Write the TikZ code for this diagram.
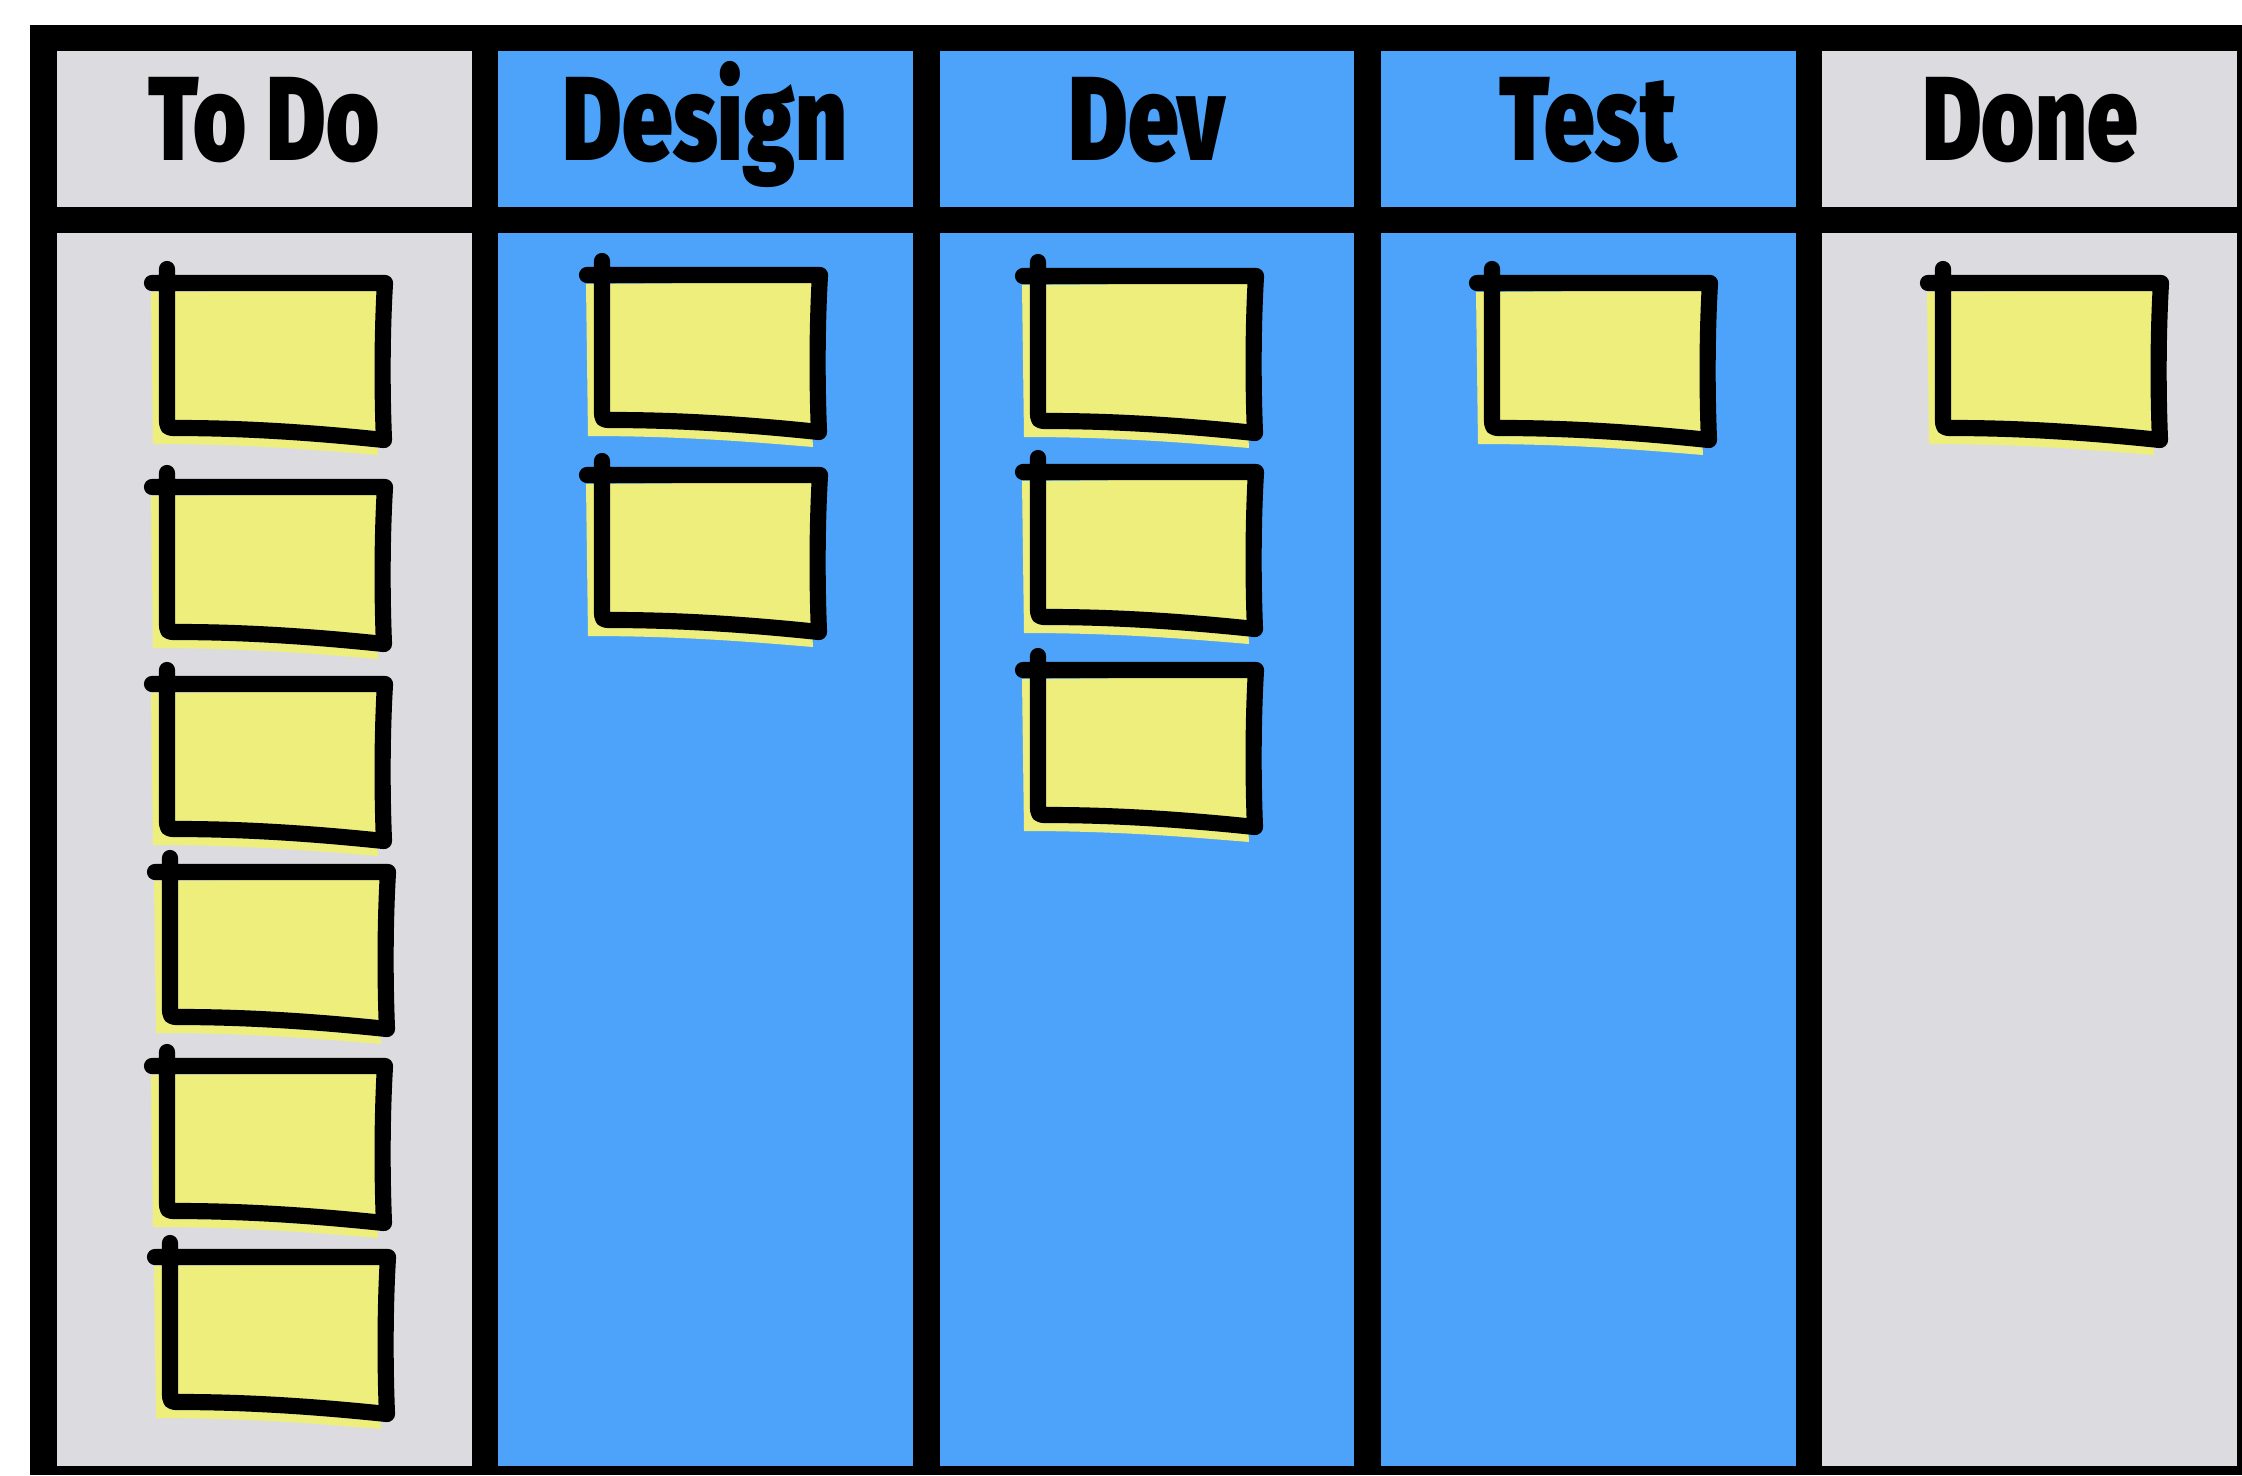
\documentclass[tikz,border=0pt]{standalone}
\usepackage{fontspec}
\newfontfamily\headfont[FakeStretch=0.76]{Fira Sans Black}
\definecolor{colgray}{RGB}{220,220,224}
\definecolor{colblue}{RGB}{77,163,250}
\definecolor{notey}{RGB}{238,238,124}
\tikzset{
  headtext/.style={anchor=base, inner sep=0pt, font=\headfont\fontsize{34}{34}\selectfont, text=black},
  noteline/.style={draw=black, line width=4.6pt, line cap=round, line join=round},
  notefill/.style={fill=notey}
}
\newcommand{\stickynote}[2]{%
  \begin{scope}[shift={(#1,#2)}]
    \fill[notefill] (-16,9) -- (210,7) .. controls (208,60) and (208,120) .. (211,172)
      .. controls (150,167) and (80,161) .. (-14,161) -- cycle;
    \draw[noteline] (0,-14) -- (0,134) .. controls (0,145) .. (10,145)
      .. controls (80,145) and (150,150) .. (217,157)
      .. controls (215,110) and (215,50) .. (218,0) -- (-15,0);
  \end{scope}}
\begin{document}
\begin{tikzpicture}[x=0.01cm, y=-0.01cm]
  \useasboundingbox (0,0) rectangle (2242,1475);
  \fill[white] (0,0) rectangle (2242,1475);
  % black frame
  \fill[black] (30,25) rectangle (2242,1475);
  % columns: headers and bodies
  \fill[colgray] (57,51) rectangle (472,207);
  \fill[colgray] (57,233) rectangle (472,1466);
  \fill[colblue] (498,51) rectangle (913,207);
  \fill[colblue] (498,233) rectangle (913,1466);
  \fill[colblue] (940,51) rectangle (1354,207);
  \fill[colblue] (940,233) rectangle (1354,1466);
  \fill[colblue] (1381,51) rectangle (1796,207);
  \fill[colblue] (1381,233) rectangle (1796,1466);
  \fill[colgray] (1822,51) rectangle (2237,207);
  \fill[colgray] (1822,233) rectangle (2237,1466);
  % header labels
  \node[headtext] (todo) at (264,160) {To Do};
  \node[headtext] (design) at (705,160) {Design};
  \node[headtext] (dev) at (1147,160) {Dev};
  \node[headtext] (test) at (1588,160) {Test};
  \node[headtext] (done) at (2030,160) {Done};
  % To Do notes
  \stickynote{167}{283}
  \stickynote{167}{487}
  \stickynote{167}{684}
  \stickynote{170}{872}
  \stickynote{167}{1066}
  \stickynote{170}{1257}
  % Design notes
  \stickynote{602}{275}
  \stickynote{602}{475}
  % Dev notes
  \stickynote{1038}{276}
  \stickynote{1038}{472}
  \stickynote{1038}{670}
  % Test note
  \stickynote{1492}{283}
  % Done note
  \stickynote{1943}{283}
\end{tikzpicture}
\end{document}
